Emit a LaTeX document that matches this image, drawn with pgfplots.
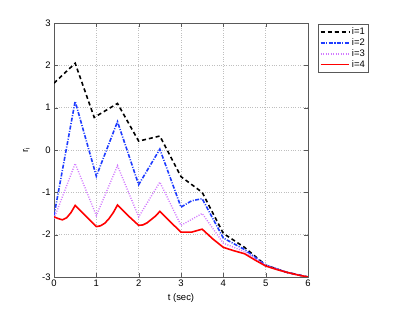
\documentclass[border=0pt]{standalone}
\usepackage{pgfplots}
\pgfplotsset{compat=1.18}
\usepackage{fontspec}
\setmainfont{Liberation Sans}
\definecolor{mblue}{RGB}{30,60,255}
\definecolor{mviolet}{RGB}{210,120,255}
\begin{document}
\fontsize{9.5}{11}\selectfont
\begin{tikzpicture}
\useasboundingbox (0,0) rectangle (415bp,312bp);
\begin{axis}[
  at={(54bp,35bp)}, anchor=south west,
  scale only axis, width=254bp, height=254bp,
  xmin=0, xmax=6, ymin=-3, ymax=3,
  xtick={0,...,6}, ytick={-3,...,3},
  grid=major,
  major grid style={dotted, gray!50},
  axis line style={gray!70!black},
  tick style={gray!70!black},
  tick align=inside,
  /pgf/number format/assume math mode=true,
  ticklabel style={font=\fontsize{9.5}{11}\selectfont},
  xlabel={t (sec)}, ylabel={r$_\mathrm{i}$},
  xlabel style={font=\fontsize{9.5}{11}\selectfont, yshift=0pt},
  ylabel style={font=\fontsize{9.5}{11}\selectfont, yshift=6pt},
  legend style={at={(1.04,0.995)}, anchor=north west, draw=gray!70!black,
    font=\fontsize{9.5}{11}\selectfont, inner sep=1.5pt, row sep=-1.5pt},
  legend cell align=left,
  legend image code/.code={\draw[#1, line width=1.8pt] plot coordinates {(0cm,0cm) (0.5cm,0cm) (1.0cm,0cm)};},
]
\addplot[black, line width=1.6pt, dash pattern=on 4pt off 3pt] coordinates {
(0,1.58) (0.5,2.05) (0.95,0.77) (1.5,1.1) (2.0,0.21) (2.5,0.33)
(3.0,-0.63) (3.5,-1.0) (4.0,-1.97) (4.5,-2.3) (5.0,-2.72) (5.5,-2.89) (6,-3.0)};
\addlegendentry{i=1}
\addplot[mblue, line width=1.6pt, dash pattern=on 4pt off 1.5pt on 1pt off 1.5pt] coordinates {
(0,-1.55) (0.5,1.15) (1.0,-0.62) (1.5,0.67) (2.0,-0.82) (2.5,0.02)
(3.0,-1.35) (3.25,-1.2) (3.5,-1.15) (4.0,-2.08) (4.5,-2.35) (5.0,-2.72) (5.5,-2.89) (6,-3.0)};
\addlegendentry{i=2}
\addplot[mviolet, line width=1.4pt, dash pattern=on 1pt off 1.5pt] coordinates {
(0,-1.62) (0.5,-0.32) (1.0,-1.55) (1.5,-0.37) (2.0,-1.58) (2.5,-0.76)
(3.0,-1.78) (3.5,-1.5) (4.0,-2.2) (4.5,-2.4) (5.0,-2.72) (5.5,-2.89) (6,-3.0)};
\addlegendentry{i=3}
\addplot[red, line width=1.6pt] coordinates {
(0,-1.58) (0.1,-1.62) (0.2,-1.65) (0.3,-1.6) (0.4,-1.48) (0.5,-1.31)
(0.75,-1.56) (1.0,-1.81) (1.1,-1.79) (1.2,-1.73) (1.3,-1.62) (1.4,-1.48) (1.5,-1.3)
(1.75,-1.55) (2.0,-1.78) (2.1,-1.77) (2.2,-1.72) (2.3,-1.64) (2.4,-1.56) (2.5,-1.45)
(2.75,-1.7) (3.0,-1.94) (3.25,-1.94) (3.5,-1.87) (3.75,-2.1) (4.0,-2.3) (4.25,-2.38)
(4.5,-2.45) (4.75,-2.6) (5.0,-2.74) (5.25,-2.82) (5.5,-2.89) (5.75,-2.95) (6.0,-3.0)};
\addlegendentry{i=4}
\end{axis}
\end{tikzpicture}
\end{document}
